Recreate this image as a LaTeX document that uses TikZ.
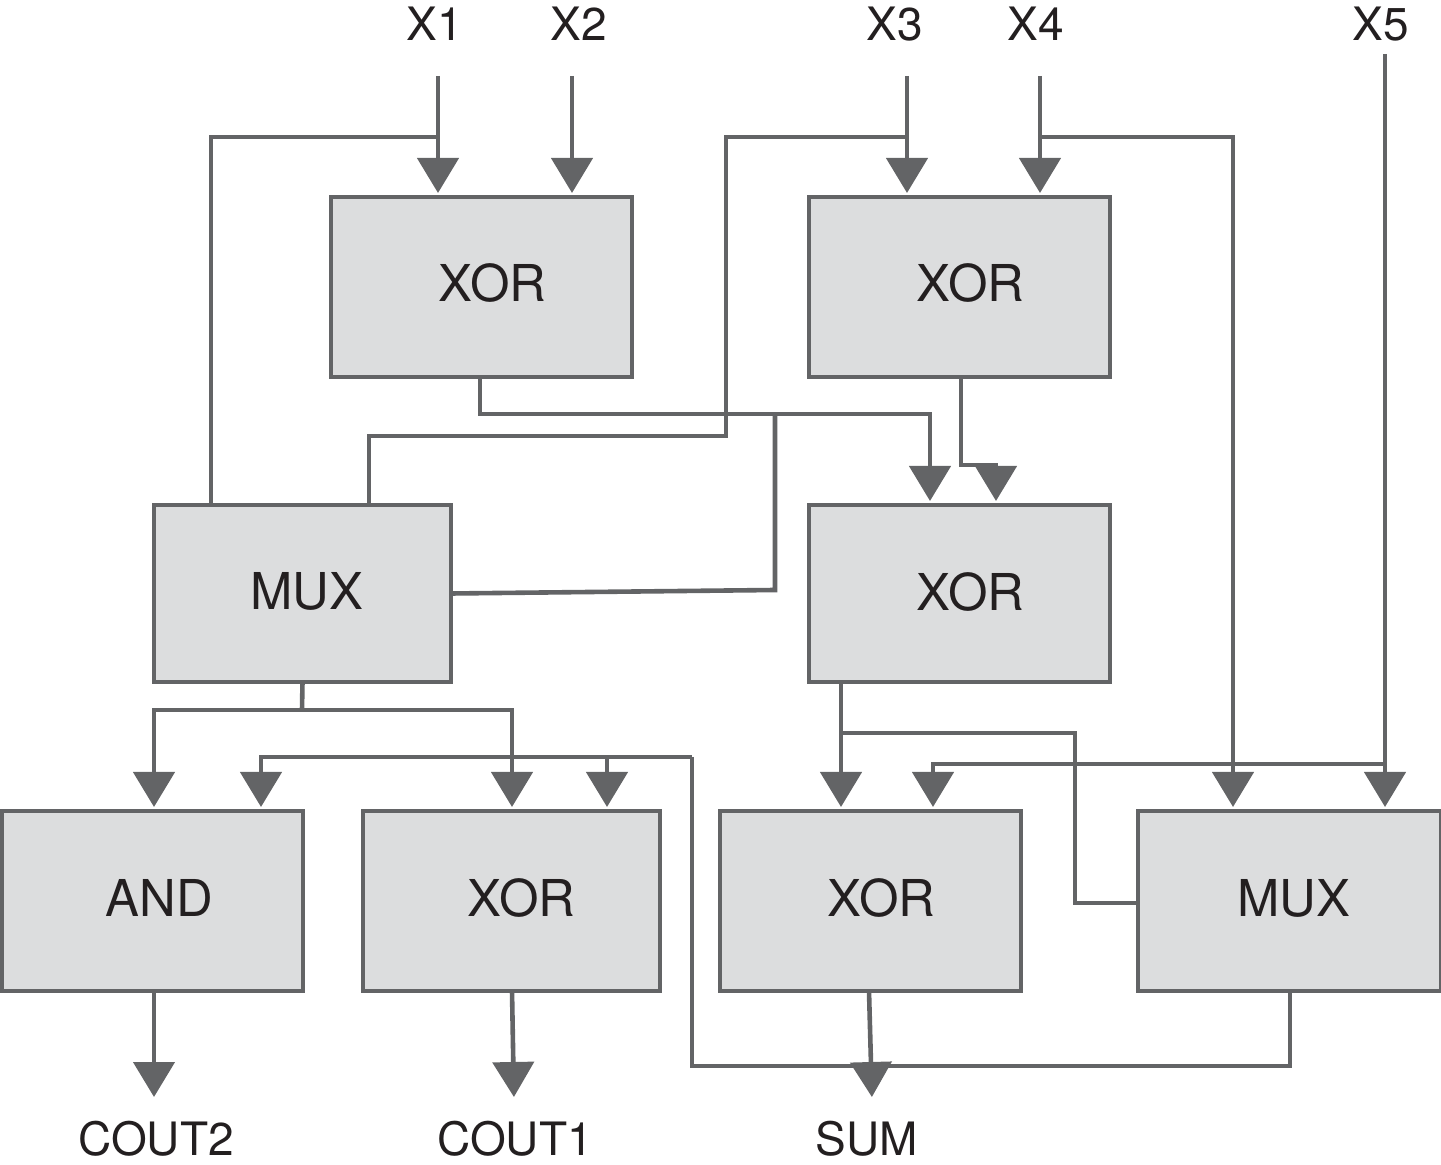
\documentclass[tikz,border=0pt]{standalone}
\usepackage{fontspec}
\setmainfont{TeX Gyre Heros}
\usetikzlibrary{arrows.meta}
\definecolor{wire}{HTML}{636466}
\definecolor{gatefill}{HTML}{DCDDDE}
\definecolor{ink}{HTML}{231F20}
\tikzset{
  gate/.style={draw=wire,fill=gatefill,line width=2pt,rectangle,outer sep=0pt,inner sep=0pt},
  wideg/.style={gate,minimum width=150.5pt,minimum height=90pt},
  gatetext/.style={text=ink,font=\fontsize{25.4pt}{28pt}\selectfont},
  sig/.style={text=ink,font=\fontsize{23pt}{26pt}\selectfont,inner sep=0pt},
  wire/.style={draw=wire,line width=2.3pt},
  arr/.style={wire,-{Triangle[width=20.5pt,length=17.5pt]},shorten >=2pt}
}
\begin{document}
\begin{tikzpicture}[x=0.5pt,y=-0.5pt]
\useasboundingbox (0,0) rectangle (1441,1165);
% gates
\node[wideg,label={[gatetext,xshift=5.5pt,yshift=2pt]center:XOR}] (xa) at (481.5,287) {};
\node[wideg,label={[gatetext,xshift=5.5pt,yshift=2pt]center:XOR}] (xb) at (959.5,287) {};
\node[gate,minimum width=148.5pt,minimum height=88.5pt,label={[gatetext,xshift=2pt,yshift=1pt]center:MUX}] (ma) at (302.5,593.5) {};
\node[gate,minimum width=150.5pt,minimum height=88.5pt,label={[gatetext,xshift=5.5pt,yshift=1pt]center:XOR}] (xc) at (959.5,593.5) {};
\node[wideg,label={[gatetext,xshift=3.5pt,yshift=1.5pt]center:AND}] (ag) at (152.5,901) {};
\node[gate,minimum width=148.5pt,minimum height=90pt,label={[gatetext,xshift=5pt,yshift=1.5pt]center:XOR}] (xd) at (511.5,901) {};
\node[wideg,label={[gatetext,xshift=5.5pt,yshift=1.5pt]center:XOR}] (xe) at (870.5,901) {};
\node[gate,minimum width=151.5pt,minimum height=90pt,label={[gatetext,xshift=2pt,yshift=1.5pt]center:MUX}] (mb) at (1289.5,901) {};
% signal labels
\node[sig] (X1) at (435,24) {X1};
\node[sig] (X2) at (579,24) {X2};
\node[sig] (X3) at (895,24) {X3};
\node[sig] (X4) at (1036,24) {X4};
\node[sig] (X5) at (1381,24) {X5};
\node[sig] (C2) at (156,1139) {COUT2};
\node[sig] (C1) at (515,1139) {COUT1};
\node[sig] (S) at (867,1139) {SUM};
% free ends and junctions
\coordinate (i1) at (438,76);
\coordinate (i2) at (572,76);
\coordinate (i3) at (907,76);
\coordinate (i4) at (1040,76);
\coordinate (i5) at (1385,54);
\coordinate (o2) at (154,1101);
\coordinate (o1) at (514,1101);
\coordinate (os) at (872,1101);
\coordinate (busa) at (775,414);
\coordinate (busb) at (692,757);
\coordinate (busc) at (1385,764);
\coordinate (busd) at (841,733);
\coordinate (buse) at (302,710);
% inputs
\draw[arr] (i1) -- (i1 |- xa.north);
\draw[arr] (i2) -- (i2 |- xa.north);
\draw[arr] (i3) -- (i3 |- xb.north);
\draw[arr] (i4) -- (i4 |- xb.north);
\draw[arr] (i5) -- (i5 |- mb.north);
\draw[wire] (438,137) -| (211,505);
\draw[wire] (907,137) -- (726,137) -- (726,436) -- (369,436) -- (369,505);
\draw[arr] (1040,137) -- (1233,137) -- (1233,811);
% middle
\draw[arr] (480,377) -- (480,414) -- (930,414) -- (930,505);
\draw[arr] (961,377) -- (961,465) -- (996,465) -- (996,505);
\draw[wire] (ma.east) -- (775,590) -- (busa);
% XOR c output
\draw[wire] (841,682) -- (929,682);
\draw[arr] (841,682) -- (841,811);
\draw[wire] (busd) -- (1075,733) -- (1075,903) -- (1138,903);
% x5 branch
\draw[arr] (busc) -- (933,764) -- (933,811);
% MUX a output
\draw[wire] (ma.south) -- (buse);
\draw[arr] (buse) -- (154,710) -- (154,811);
\draw[arr] (buse) -- (512,710) -- (512,811);
% feedback
\draw[arr] (busb) -- (261,757) -- (261,811);
\draw[arr] (607,757) -- (607,811);
\draw[wire] (busb) -- (692,1066) -- (1290,1066) -- (1290,991);
% outputs
\draw[arr] (154,991) -- (o2);
\draw[arr] (512,991) -- (o1);
\draw[arr] (869,991) -- (os);
\end{tikzpicture}
\end{document}
